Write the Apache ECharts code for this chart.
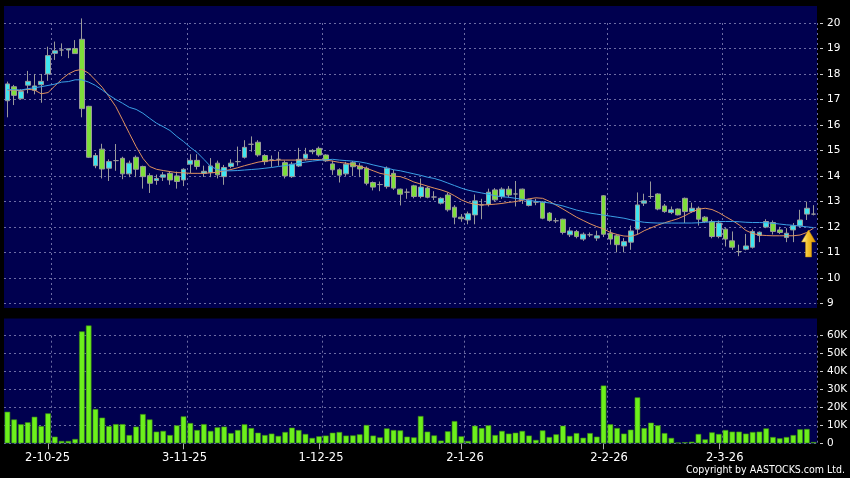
<!DOCTYPE html>
<html><head><meta charset="utf-8">
<script src="https://cdn.jsdelivr.net/npm/echarts@6/dist/echarts.min.js"></script>
<style>html,body{margin:0;padding:0;background:#000}#c{width:850px;height:478px}</style>
</head><body><div id="c"></div>
<script>
const dates = ['23-9-25','24-9-25','25-9-25','26-9-25','29-9-25','30-9-25',
'2-10-25','3-10-25','6-10-25','8-10-25','9-10-25','10-10-25','13-10-25','14-10-25','15-10-25','16-10-25','17-10-25','20-10-25','21-10-25','22-10-25','23-10-25','24-10-25','27-10-25','28-10-25','30-10-25','31-10-25',
'3-11-25','4-11-25','5-11-25','6-11-25','7-11-25','10-11-25','11-11-25','12-11-25','13-11-25','14-11-25','17-11-25','18-11-25','19-11-25','20-11-25','21-11-25','24-11-25','25-11-25','26-11-25','27-11-25','28-11-25',
'1-12-25','2-12-25','3-12-25','4-12-25','5-12-25','8-12-25','9-12-25','10-12-25','11-12-25','12-12-25','15-12-25','16-12-25','17-12-25','18-12-25','19-12-25','22-12-25','23-12-25','24-12-25','29-12-25','30-12-25','31-12-25',
'2-1-26','5-1-26','6-1-26','7-1-26','8-1-26','9-1-26','12-1-26','13-1-26','14-1-26','15-1-26','16-1-26','19-1-26','20-1-26','21-1-26','22-1-26','23-1-26','26-1-26','27-1-26','28-1-26','29-1-26','30-1-26',
'2-2-26','3-2-26','4-2-26','5-2-26','6-2-26','9-2-26','10-2-26','11-2-26','12-2-26','13-2-26','16-2-26','20-2-26','23-2-26','24-2-26','25-2-26','26-2-26','27-2-26',
'2-3-26','3-3-26','4-3-26','5-3-26','6-3-26','9-3-26','10-3-26','11-3-26','12-3-26','13-3-26','16-3-26','17-3-26','18-3-26','19-3-26','20-3-26'];

const tickDates = ['2-10-25','3-11-25','1-12-25','2-1-26','2-2-26','2-3-26'];

const open = [16.95,17.50,17.03,17.56,17.36,17.58,18.00,18.81,18.94,18.94,
19.00,19.36,16.73,14.40,15.05,14.30,14.60,14.69,14.08,14.73,
14.37,14.01,13.82,13.95,14.10,14.00,13.84,14.46,14.61,14.10,
14.13,14.50,13.97,14.37,14.56,14.73,15.24,15.32,14.80,14.63,
14.65,14.52,13.97,14.39,14.69,14.95,15.08,14.82,14.47,14.24,
14.08,14.52,14.39,14.30,13.74,13.66,13.58,14.10,13.48,13.36,
13.61,13.19,13.52,13.17,12.93,13.25,12.77,12.38,12.27,12.47,
12.86,12.89,13.45,13.19,13.48,13.29,13.48,12.84,12.97,12.97,
12.54,12.24,12.30,11.69,11.82,11.52,11.69,11.56,13.22,11.75,
11.65,11.25,11.40,11.91,12.93,13.19,13.29,12.82,12.56,12.70,
13.12,12.60,12.73,12.38,12.21,11.62,11.91,11.45,11.03,11.12,
11.20,11.66,11.99,12.17,11.88,11.58,11.88,12.04,12.50,12.50];

const close = [17.61,17.16,17.31,17.71,17.53,17.71,18.72,18.91,18.94,18.99,
18.80,16.64,14.73,14.80,14.27,14.56,14.60,14.08,14.50,14.26,
13.97,13.71,13.90,14.04,13.84,13.78,14.26,14.61,14.37,14.18,
14.39,14.04,14.33,14.50,14.56,15.12,15.24,14.82,14.56,14.63,
14.65,14.00,14.46,14.65,14.85,15.00,14.82,14.59,14.24,14.03,
14.46,14.36,14.27,13.71,13.56,13.66,14.30,13.52,13.28,13.36,
13.19,13.56,13.16,13.17,13.12,12.67,12.38,12.32,12.51,13.02,
12.86,13.36,13.06,13.48,13.25,13.29,13.06,13.06,12.97,12.34,
12.25,12.24,11.78,11.84,11.62,11.71,11.69,11.65,11.71,11.52,
11.30,11.42,11.84,12.86,13.02,13.19,12.70,12.60,12.67,12.47,
12.60,12.73,12.30,12.21,11.62,12.15,11.52,11.20,11.03,11.25,
11.82,11.79,12.21,11.82,11.78,11.75,12.04,12.27,12.73,12.50];

const low = [16.30,16.78,17.00,17.24,17.20,16.87,17.73,18.55,18.70,18.62,
18.80,16.30,14.70,14.30,13.90,13.80,14.20,13.87,13.95,13.95,
13.50,13.33,13.65,13.80,13.65,13.50,13.60,14.10,14.25,13.96,
13.95,13.90,13.65,14.30,14.40,14.68,14.95,14.75,14.43,14.35,
14.40,13.90,13.92,14.35,14.60,14.85,14.75,14.55,14.04,13.74,
14.00,14.00,13.95,13.63,13.43,13.40,13.50,13.45,12.84,13.10,
13.12,13.12,13.12,13.05,12.88,12.60,12.10,12.20,12.10,12.10,
12.30,12.80,13.00,13.10,13.15,12.80,12.90,12.80,12.85,12.30,
12.20,12.15,11.70,11.60,11.55,11.45,11.60,11.45,11.60,11.30,
11.00,11.00,11.10,11.70,12.82,13.10,12.65,12.55,12.50,12.45,
12.15,12.55,12.05,12.15,11.55,11.55,11.23,11.10,10.85,11.08,
11.15,11.40,11.95,11.70,11.72,11.40,11.40,11.99,12.27,12.45];

const high = [17.70,17.57,17.40,18.12,18.00,18.00,19.07,19.27,19.20,19.00,
19.33,20.18,16.75,14.90,15.26,14.65,15.25,14.75,14.60,14.80,
14.40,14.10,14.05,14.15,14.17,14.17,14.30,14.85,14.85,14.40,
14.70,14.60,14.43,14.65,15.15,15.40,15.55,15.40,14.85,14.80,
14.95,14.60,14.55,15.10,15.10,15.05,15.15,14.85,14.60,14.30,
14.55,14.58,14.50,14.37,13.78,13.78,14.37,14.24,13.50,13.50,
13.65,13.90,13.58,13.40,13.16,13.35,12.85,12.50,12.60,13.27,
13.10,13.50,13.52,13.55,13.60,13.80,13.50,13.10,13.10,13.00,
12.58,12.35,12.32,11.95,11.88,11.78,11.78,11.85,13.25,11.90,
11.70,11.56,12.05,13.35,13.30,13.78,13.32,12.90,12.80,12.72,
13.15,12.95,12.80,12.42,12.28,12.25,11.95,11.82,11.30,11.72,
11.90,11.82,12.30,12.25,12.00,11.95,12.15,12.67,12.99,12.85];

const volume = [17600,13300,10600,11700,14800,9600,16700,3700,1300,1300,
2400,62400,65700,19100,14300,9600,10700,10700,4600,9300,
16300,13300,6500,6900,4600,10000,15000,11300,7400,10700,
6900,8900,9300,5700,7400,10600,8500,5900,4600,5400,
4100,6300,8700,7400,5200,3000,3900,4300,5900,6300,
4300,4400,5000,10200,4300,3300,8300,7400,7200,3700,
3300,15200,6500,4400,1500,6700,12400,3900,1300,9800,
8500,10000,4600,6900,5400,5900,6900,4300,1900,7200,
3500,5000,9800,4100,5700,3100,5700,3700,32200,10600,
8500,5400,7600,25600,8500,11500,10000,5700,3000,400,
600,900,5200,2200,6100,5200,7400,6500,6500,5400,
6300,6500,8300,3500,2800,3500,4600,7800,8000,700];

const ma10 = [17.37,17.36,17.35,17.40,17.37,17.22,17.27,17.53,17.79,18.00,
18.13,18.18,18.03,17.76,17.48,17.11,16.72,16.20,15.67,15.15,
14.69,14.37,14.26,14.21,14.17,14.13,14.12,14.10,14.10,14.10,
14.12,14.14,14.20,14.25,14.32,14.40,14.47,14.54,14.58,14.60,
14.62,14.62,14.62,14.62,14.63,14.64,14.64,14.62,14.58,14.53,
14.50,14.44,14.37,14.30,14.20,14.10,14.05,13.99,13.97,13.88,
13.76,13.68,13.60,13.52,13.45,13.36,13.22,13.06,12.95,12.89,
12.86,12.87,12.89,12.92,12.96,12.99,13.05,13.10,13.14,13.12,
13.00,12.85,12.70,12.54,12.38,12.25,12.12,12.01,11.92,11.78,
11.70,11.64,11.63,11.70,11.85,11.96,12.07,12.16,12.24,12.32,
12.44,12.58,12.69,12.73,12.68,12.56,12.40,12.25,12.08,11.86,
11.74,11.68,11.66,11.65,11.65,11.65,11.65,11.68,11.78,11.95];

const ma20 = [17.39,17.38,17.37,17.42,17.46,17.50,17.55,17.60,17.68,17.70,
17.77,17.77,17.68,17.55,17.37,17.17,17.00,16.85,16.69,16.61,
16.46,16.26,16.07,15.93,15.78,15.55,15.35,15.12,14.92,14.65,
14.37,14.25,14.20,14.20,14.21,14.23,14.25,14.27,14.30,14.33,
14.37,14.40,14.45,14.50,14.54,14.58,14.61,14.63,14.65,14.62,
14.60,14.58,14.55,14.50,14.43,14.37,14.31,14.24,14.20,14.14,
14.08,14.02,13.95,13.90,13.82,13.72,13.62,13.52,13.44,13.38,
13.33,13.28,13.22,13.18,13.16,13.12,13.08,13.04,13.00,12.97,
12.94,12.88,12.82,12.74,12.66,12.60,12.54,12.50,12.46,12.42,
12.38,12.34,12.28,12.22,12.18,12.16,12.15,12.15,12.15,12.15,
12.15,12.15,12.16,12.18,12.20,12.21,12.21,12.21,12.20,12.18,
12.17,12.17,12.16,12.14,12.11,12.08,12.06,12.03,12.00,11.97];

const priceMin = 9, priceMax = 20, priceStep = 1;
const volMax = 60000, volStep = 10000;

// label nudge (px) so date labels sit where the original draws them
const labelNudge = [-0.5, 1, 2, 3.6, 5.5, 5.9];

const candles = dates.map((d, i) => [open[i], close[i], low[i], high[i]]);
const isTick = (idx) => tickDates.indexOf(dates[idx]) >= 0;
const isGridLine = (idx) => idx > 0 && isTick(idx - 1);

const labelFont = {color: '#fff', fontSize: 11.5, fontFamily: 'DejaVu Sans'};
const rich = {};
labelNudge.forEach((s, k) => {
  rich['s' + k] = Object.assign({}, labelFont,
    {padding: s >= 0 ? [0, 0, 0, 2 * s] : [0, -2 * s, 0, 0]});
});

const gridColor = '#6c6ca4';
const chart = echarts.init(document.getElementById('c'), null, {renderer: 'canvas'});
chart.setOption({
  animation: false,
  backgroundColor: '#000',
  graphic: [
    {type: 'rect', z: -100, shape: {x: 4, y: 6, width: 813, height: 302}, style: {fill: '#00004f'}, silent: true},
    {type: 'rect', z: -100, shape: {x: 4, y: 318.5, width: 813, height: 125.5}, style: {fill: '#00004f'}, silent: true},
    {type: 'text', right: 5, top: 465, style: {text: 'Copyright by AASTOCKS.com Ltd.', fill: '#fff', font: '10.5px "DejaVu Sans Condensed", "DejaVu Sans"'}}
  ],
  grid: [
    {left: 4, right: 33, top: 23, height: 280.3, outerBoundsMode: 'none'},
    {left: 4, right: 33, top: 335.7, height: 107.6, outerBoundsMode: 'none'}
  ],
  xAxis: [
    {type: 'category', gridIndex: 0, data: dates, boundaryGap: true,
     axisLine: {show: false}, axisTick: {show: false}, axisLabel: {show: false},
     splitLine: {show: true, interval: (idx) => isGridLine(idx), lineStyle: {color: gridColor, type: [2, 3], width: 1}}},
    {type: 'category', gridIndex: 1, data: dates, boundaryGap: true,
     axisLine: {show: false},
     axisTick: {show: true, alignWithLabel: true, interval: (idx) => isTick(idx), length: 6, lineStyle: {color: '#aaa'}},
     axisLabel: {show: true, interval: (idx) => isTick(idx), color: '#fff', fontSize: 11.5, fontFamily: 'DejaVu Sans', margin: 9,
       formatter: (v) => { const k = tickDates.indexOf(v); return k >= 0 ? '{s' + k + '|' + v + '}' : v; },
       rich: rich},
     splitLine: {show: true, interval: (idx) => isGridLine(idx), lineStyle: {color: gridColor, type: [2, 3], width: 1}}}
  ],
  yAxis: [
    {type: 'value', gridIndex: 0, position: 'right', min: priceMin, max: priceMax, interval: priceStep, offset: 3,
     axisLine: {show: false}, axisTick: {show: true, length: 3, lineStyle: {color: '#ccc'}},
     axisLabel: {color: '#fff', fontSize: 10.5, fontFamily: 'DejaVu Sans', margin: 7},
     splitLine: {show: true, lineStyle: {color: gridColor, type: [2, 3], width: 1}}},
    {type: 'value', gridIndex: 1, position: 'right', min: 0, max: volMax, interval: volStep, offset: 3,
     axisLine: {show: false}, axisTick: {show: true, length: 3, lineStyle: {color: '#ccc'}},
     axisLabel: {color: '#fff', fontSize: 10.5, fontFamily: 'DejaVu Sans', margin: 7,
       formatter: (v) => v === 0 ? '0' : (v / 1000) + 'K'},
     splitLine: {show: true, lineStyle: {color: gridColor, type: [2, 3], width: 1}}}
  ],
  series: [
    {type: 'candlestick', xAxisIndex: 0, yAxisIndex: 0, data: candles, barWidth: 5.2, clip: false,
     itemStyle: {color: '#3ee6f0', color0: '#7ede3a', borderColor: '#9a9a9a', borderColor0: '#9a9a9a', borderWidth: 1}},
    {type: 'line', xAxisIndex: 0, yAxisIndex: 0, data: ma10, symbol: 'none', clip: false,
     lineStyle: {color: '#e0915e', width: 1},
     markPoint: {
       symbol: 'path://M7,0 L14,12 L10,12 L10,27 L4,27 L4,12 L0,12 Z',
       symbolSize: [14, 27], symbolKeepAspect: false,
       label: {show: false},
       itemStyle: {color: new echarts.graphic.LinearGradient(0, 0, 1, 0, [
         {offset: 0, color: '#fff3a8'}, {offset: 0.45, color: '#f5c22c'}, {offset: 1, color: '#d89000'}]),
         borderColor: '#c88a00', borderWidth: 0.5},
       data: [{coord: [dates[118], ma10[118]], symbolOffset: [1.7, 11]}]
     }},
    {type: 'line', xAxisIndex: 0, yAxisIndex: 0, data: ma20, symbol: 'none', clip: false,
     lineStyle: {color: '#3ba0e6', width: 1}},
    {type: 'bar', xAxisIndex: 1, yAxisIndex: 1, data: volume, barWidth: 5.6, clip: false,
     itemStyle: {color: '#6cf01c', borderColor: '#3d8c12', borderWidth: 0.6}}
  ]
});
</script>
</body></html>
